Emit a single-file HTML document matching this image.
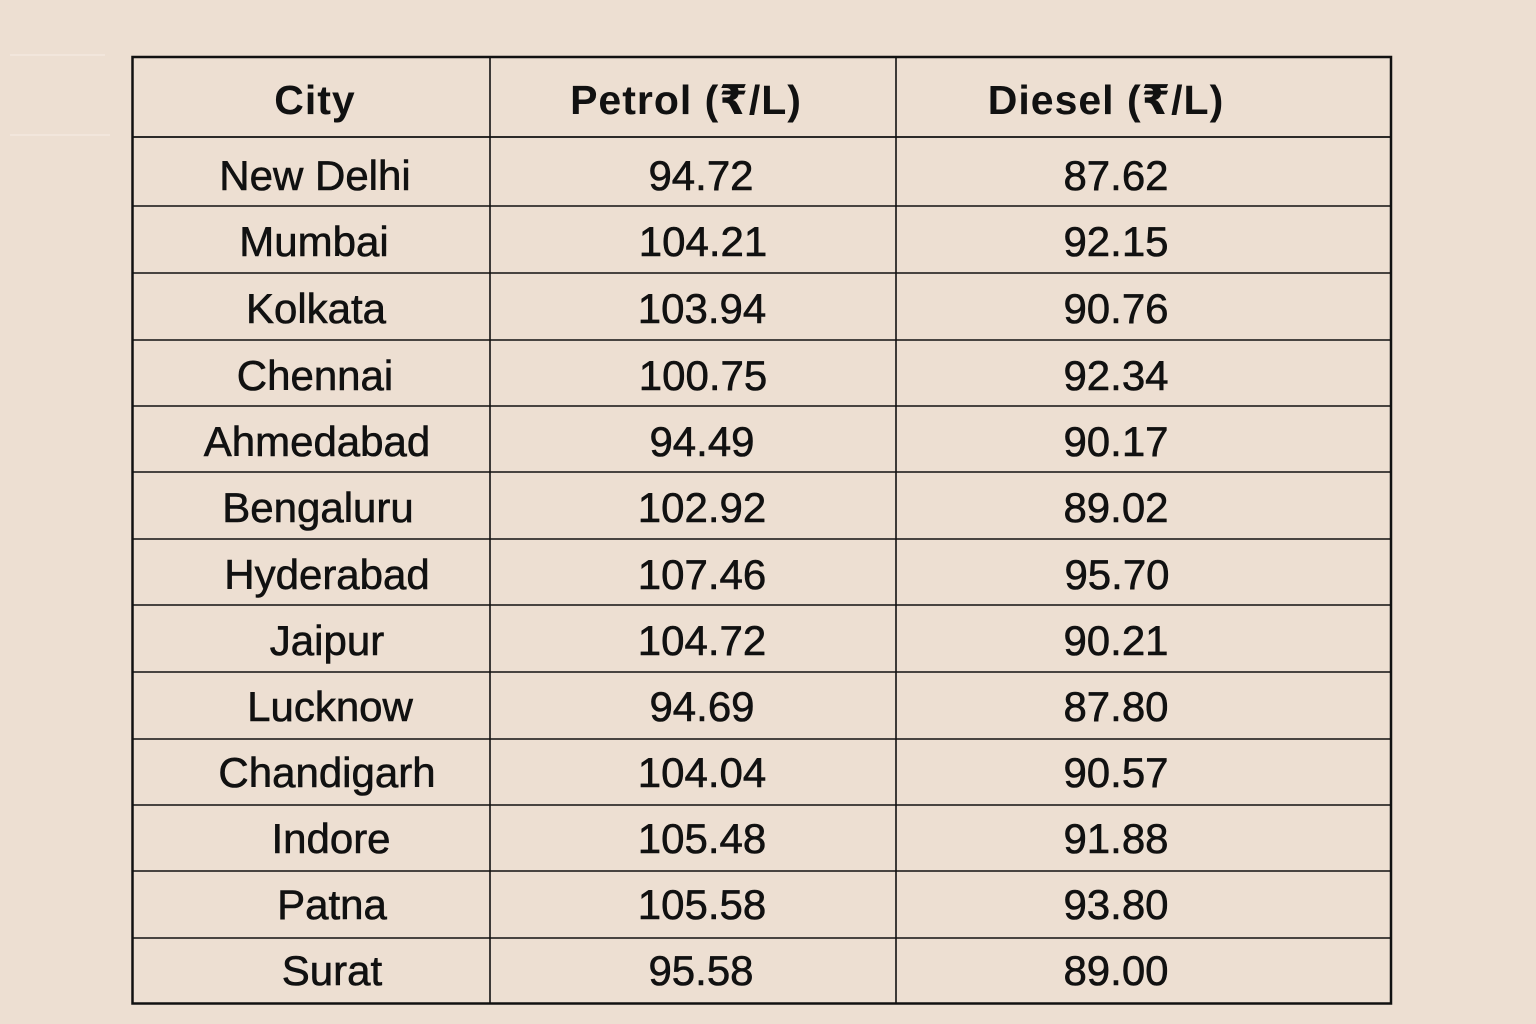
<!DOCTYPE html>
<html>
<head>
<meta charset="utf-8">
<style>
html,body{margin:0;padding:0;background:#eddfd2;}
svg{display:block;}
.h{font-family:"Liberation Sans","DejaVu Sans",sans-serif;font-weight:bold;font-size:41px;letter-spacing:1px;fill:#111;}
.b{font-family:"Liberation Sans","DejaVu Sans",sans-serif;font-size:42px;fill:#111;stroke:#111;stroke-width:0.6px;}
</style>
</head>
<body>
<svg width="1536" height="1024" viewBox="0 0 1536 1024" xmlns="http://www.w3.org/2000/svg">
<rect x="0" y="0" width="1536" height="1024" fill="#eddfd2"/>
<line x1="10" y1="55" x2="105" y2="55" stroke="#f6eee6" stroke-width="1"/>
<line x1="10" y1="135" x2="110" y2="135" stroke="#f6eee6" stroke-width="1"/>
<!-- grid -->
<g stroke="#111" fill="none">
<rect x="132.5" y="57" width="1258.5" height="946.5" stroke-width="2.5"/>
<line x1="490" y1="57" x2="490" y2="1004" stroke-width="1.6"/>
<line x1="896" y1="57" x2="896" y2="1004" stroke-width="1.6"/>
<line x1="132" y1="137" x2="1391" y2="137" stroke-width="1.8"/>
<line x1="132" y1="206" x2="1391" y2="206" stroke-width="1.6"/>
<line x1="132" y1="273" x2="1391" y2="273" stroke-width="1.6"/>
<line x1="132" y1="340" x2="1391" y2="340" stroke-width="1.6"/>
<line x1="132" y1="406" x2="1391" y2="406" stroke-width="1.6"/>
<line x1="132" y1="472" x2="1391" y2="472" stroke-width="1.6"/>
<line x1="132" y1="539" x2="1391" y2="539" stroke-width="1.6"/>
<line x1="132" y1="605" x2="1391" y2="605" stroke-width="1.6"/>
<line x1="132" y1="672" x2="1391" y2="672" stroke-width="1.6"/>
<line x1="132" y1="739" x2="1391" y2="739" stroke-width="1.6"/>
<line x1="132" y1="805" x2="1391" y2="805" stroke-width="1.6"/>
<line x1="132" y1="871" x2="1391" y2="871" stroke-width="1.6"/>
<line x1="132" y1="938" x2="1391" y2="938" stroke-width="1.6"/>
</g>
<!-- header -->
<g class="h" text-anchor="middle">
<text x="315" y="114">City</text>
<text x="686" y="114">Petrol (₹/L)</text>
<text x="1106" y="114">Diesel (₹/L)</text>
</g>
<!-- body -->
<g class="b" text-anchor="middle">
<text x="315" y="190">New Delhi</text><text x="701" y="190">94.72</text><text x="1116" y="190">87.62</text>
<text x="314" y="256">Mumbai</text><text x="703" y="256">104.21</text><text x="1116" y="256">92.15</text>
<text x="316" y="323">Kolkata</text><text x="702" y="323">103.94</text><text x="1116" y="323">90.76</text>
<text x="315" y="390">Chennai</text><text x="703" y="390">100.75</text><text x="1116" y="390">92.34</text>
<text x="317" y="456">Ahmedabad</text><text x="702" y="456">94.49</text><text x="1116" y="456">90.17</text>
<text x="318" y="522">Bengaluru</text><text x="702" y="522">102.92</text><text x="1116" y="522">89.02</text>
<text x="327" y="589">Hyderabad</text><text x="702" y="589">107.46</text><text x="1117" y="589">95.70</text>
<text x="327" y="655">Jaipur</text><text x="702" y="655">104.72</text><text x="1116" y="655">90.21</text>
<text x="330" y="721">Lucknow</text><text x="702" y="721">94.69</text><text x="1116" y="721">87.80</text>
<text x="327" y="787">Chandigarh</text><text x="702" y="787">104.04</text><text x="1116" y="787">90.57</text>
<text x="331" y="853">Indore</text><text x="702" y="853">105.48</text><text x="1116" y="853">91.88</text>
<text x="332" y="919">Patna</text><text x="702" y="919">105.58</text><text x="1116" y="919">93.80</text>
<text x="332" y="985">Surat</text><text x="701" y="985">95.58</text><text x="1116" y="985">89.00</text>
</g>
</svg>
</body>
</html>
